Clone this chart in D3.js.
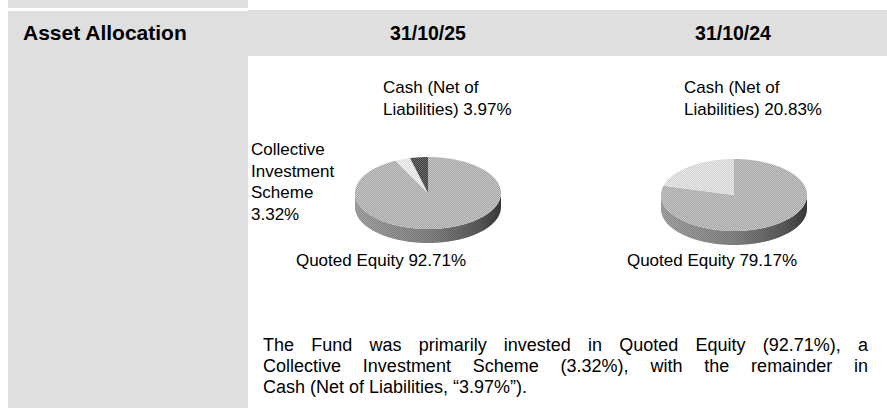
<!DOCTYPE html>
<html>
<head>
<meta charset="utf-8">
<script src="https://cdn.jsdelivr.net/npm/d3@7"></script>
<style>
body { margin: 0; background: #fff; font-family: "Liberation Sans", Arial, sans-serif; }
#wrap { position: relative; width: 887px; height: 408px; overflow: hidden; }
#chart { position: absolute; left: 0; top: 0; }
#note { position: absolute; left: 263px; top: 335px; width: 605px; font-size: 18px; line-height: 21px; color: #000; }
#note div { white-space: nowrap; }
#note div.j { text-align: justify; text-align-last: justify; white-space: normal; }
</style>
</head>
<body>
<div id="wrap">
  <svg id="chart" width="887" height="408"></svg>
  <div id="note"></div>
</div>
<script>
// values
var title = "Asset Allocation";
var dates = ["31/10/25", "31/10/24"];
var cats25 = ["Quoted Equity", "Collective Investment Scheme", "Cash (Net of Liabilities)"];
var vals25 = [92.71, 3.32, 3.97];
var cats24 = ["Quoted Equity", "Cash (Net of Liabilities)"];
var vals24 = [79.17, 20.83];

var fmt = d => d3.format(".2f")(d) + "%";

var width = 887, height = 408;
var svg = d3.select("#chart");
var font = "'Liberation Sans', Arial, sans-serif";

// background blocks
svg.append("rect").attr("x", 8).attr("y", 0).attr("width", 240).attr("height", 8).attr("fill", "#dfdfdf");
svg.append("rect").attr("x", 8).attr("y", 11).attr("width", 240).attr("height", height - 11).attr("fill", "#dfdfdf");
svg.append("rect").attr("x", 248).attr("y", 10).attr("width", width - 248).attr("height", 46).attr("fill", "#dfdfdf");

// header texts
svg.append("text").attr("x", 23).attr("y", 40).text(title)
    .attr("font-family", font).attr("font-weight", "bold").attr("font-size", 21);
var colX = d3.scalePoint().domain(dates).range([428, 733]);
svg.selectAll("text.date").data(dates).enter().append("text")
    .attr("class", "date")
    .attr("x", d => colX(d)).attr("y", 40)
    .attr("text-anchor", "middle")
    .attr("font-family", font).attr("font-weight", "bold").attr("font-size", 19.5)
    .text(d => d);

// checker patterns to mimic the dithered grey fills
var defs = svg.append("defs");
function checker(id, c1, c2) {
    var p = defs.append("pattern").attr("id", id).attr("patternUnits", "userSpaceOnUse")
        .attr("width", 2).attr("height", 2);
    p.append("rect").attr("width", 2).attr("height", 2).attr("fill", c1);
    p.append("rect").attr("width", 1).attr("height", 1).attr("fill", c2);
    p.append("rect").attr("x", 1).attr("y", 1).attr("width", 1).attr("height", 1).attr("fill", c2);
    return "url(#" + id + ")";
}
var fillMain = checker("pMain", "#a6a6a6", "#c6c6c6");
var fillLight = checker("pLight", "#dadada", "#f4f4f4");
var fillDark = checker("pDark", "#3e3e3e", "#6e6e6e");
var fillCash24 = checker("pCash24", "#cecece", "#ececec");
var grain = checker("pGrain", "rgba(0,0,0,0)", "rgba(0,0,0,0.12)");

var pies = [
    {vals: vals25, cx: 428, cy: 193, fills: [fillMain, fillLight, fillDark]},
    {vals: vals24, cx: 734, cy: 195, fills: [fillMain, fillCash24]}
];
var rx = 73, ry = 36, depth = 14;
var pie = d3.pie().sort(null).value(d => d);
var line = d3.line();

pies.forEach(function(p, i) {
    var g = svg.append("g");
    var pt = a => [p.cx + rx * Math.sin(a), p.cy - ry * Math.cos(a)];
    var arcs = pie(p.vals);

    var grad = defs.append("linearGradient").attr("id", "side" + i)
        .attr("gradientUnits", "userSpaceOnUse")
        .attr("x1", p.cx - rx).attr("x2", p.cx + rx).attr("y1", 0).attr("y2", 0);
    grad.append("stop").attr("offset", 0).attr("stop-color", "#a4a4a4");
    grad.append("stop").attr("offset", 0.5).attr("stop-color", "#858585");
    grad.append("stop").attr("offset", 0.85).attr("stop-color", "#5a5a5a");
    grad.append("stop").attr("offset", 1).attr("stop-color", "#3a3a3a");

    // side wall, front half only
    arcs.forEach(function(a) {
        var s = Math.max(a.startAngle, Math.PI / 2), e = Math.min(a.endAngle, 3 * Math.PI / 2);
        if (e <= s) return;
        var top = d3.range(s, e, 0.02).concat([e]).map(pt);
        var bot = top.slice().reverse().map(q => [q[0], q[1] + depth]);
        var d = line(top.concat(bot)) + "Z";
        g.append("path").attr("d", d).attr("fill", "url(#side" + i + ")");
        g.append("path").attr("d", d).attr("fill", grain);
    });

    // top faces
    g.selectAll("path.slice").data(arcs).enter().append("path")
        .attr("class", "slice")
        .attr("d", function(a) {
            var pts = [[p.cx, p.cy]].concat(d3.range(a.startAngle, a.endAngle, 0.02).concat([a.endAngle]).map(pt));
            return line(pts) + "Z";
        })
        .attr("fill", (a, j) => p.fills[j]);
});

// slice labels
var labels = [
    {x: 383, y: 93, anchor: "start", lines: ["Cash (Net of", "Liabilities) " + fmt(vals25[2])]},
    {x: 251, y: 155, anchor: "start", lines: ["Collective", "Investment", "Scheme", fmt(vals25[1])]},
    {x: 381, y: 266, anchor: "middle", lines: [cats25[0] + " " + fmt(vals25[0])]},
    {x: 684, y: 93, anchor: "start", lines: ["Cash (Net of", "Liabilities) " + fmt(vals24[1])]},
    {x: 712, y: 266, anchor: "middle", lines: [cats24[0] + " " + fmt(vals24[0])]}
];
labels.forEach(function(l) {
    var t = svg.append("text").attr("x", l.x).attr("y", l.y).attr("text-anchor", l.anchor)
        .attr("font-family", font).attr("font-size", 17);
    t.selectAll("tspan").data(l.lines).enter().append("tspan")
        .attr("x", l.x).attr("dy", (d, k) => k ? 21.7 : 0)
        .text(d => d);
});

// commentary, wrapped as in the reference
var noteLines = [
    "The Fund was primarily invested in " + cats25[0] + " (" + fmt(vals25[0]) + "), a",
    cats25[1] + " (" + fmt(vals25[1]) + "), with the remainder in",
    "Cash (Net of Liabilities, \u201c" + fmt(vals25[2]) + "\u201d)."
];
d3.select("#note").selectAll("div").data(noteLines).enter().append("div")
    .attr("class", (d, k) => k < noteLines.length - 1 ? "j" : null)
    .text(d => d);
</script>
</body>
</html>
